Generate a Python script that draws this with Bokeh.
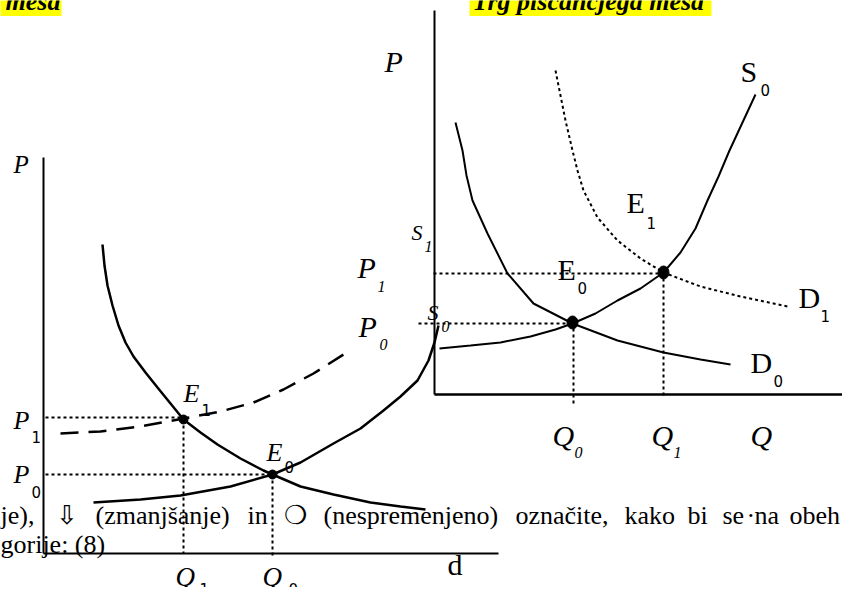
from bokeh.plotting import figure
from bokeh.models import Range1d, ColumnDataSource
from bokeh.core.properties import value
from bokeh.embed import file_html
from bokeh.resources import INLINE

# ---------------- data (screen-pixel units) ----------------
# Right panel: market for chicken meat
rD0_x = [455, 462, 466, 472, 487, 507, 533, 572, 617, 663, 700, 730]
rD0_y = [122, 150, 175, 200, 233, 273, 303, 323, 340, 352, 359, 364]
rS0_x = [439, 470, 500, 530, 555, 572, 595, 617, 640, 663, 680, 695, 707, 718, 729, 742, 755]
rS0_y = [348, 345, 342, 336, 329, 323, 313, 300, 288, 272, 252, 228, 200, 176, 150, 122, 94]
rD1_x = [555, 560, 565, 572, 577, 583, 597, 617, 640, 663, 700, 740, 787]
rD1_y = [70, 95, 120, 150, 170, 190, 217, 240, 258, 272, 286, 296, 306]
rE_x = [572, 663]
rE_y = [322, 272]

# Left panel
lD_x = [102, 104, 107, 112, 118, 125, 133, 145, 157, 170, 183, 200, 217, 240, 263, 272, 300, 333, 370, 400, 425]
lD_y = [244, 265, 285, 305, 325, 342, 356, 372, 387, 403, 419, 432, 444, 458, 470, 474, 486, 494, 502, 506, 509]
lS_x = [93, 140, 180, 230, 272, 300, 333, 360, 383, 400, 417, 428, 434, 438]
lS_y = [502, 499, 495, 486, 474, 462, 443, 428, 410, 396, 380, 360, 342, 325]
lS1_x = [60, 100, 140, 183, 220, 253, 283, 313, 343]
lS1_y = [433, 431, 426, 418, 411, 402, 389, 373, 354]
lE_x = [183, 272]
lE_y = [419, 474]

# labels
ital_text = ["P", "P", "P", "S", "S", "Q", "Q", "Q",
             "P", "E", "E", "P", "P", "Q", "Q"]
ital_x = [384, 357, 358, 411, 427, 552, 651, 750,
          13, 183, 266, 13, 13, 175, 262]
ital_y = [72, 278, 337, 240, 320, 446, 446, 446,
          173, 402, 461, 429, 483, 586, 586]
ital_size = [30, 30, 30, 22, 22, 30, 30, 30,
             25, 26, 26, 26, 26, 27, 27]

isub_text = ["1", "0", "1", "0", "0", "1"]
isub_x = [377, 379, 424, 441, 574, 673]
isub_y = [292, 350, 252, 332, 458, 458]

up_text = ["S", "E", "E", "D", "D", "d"]
up_x = [740, 626, 557, 798, 750, 447]
up_y = [82, 213, 280, 308, 373, 575]

usub_text = ["0", "1", "0", "1", "0", "1", "0", "1", "0", "1", "0"]
usub_x = [760, 646, 577, 820, 773, 201, 284, 31, 31, 199, 288]
usub_y = [95, 228, 293, 321, 386, 415, 472, 442, 497, 594, 594]

para1_words = ["nje),", "\u21e9", "(zmanjšanje)", "in", "\u274d", "(nespremenjeno)",
               "označite,", "kako", "bi", "se", "·", "na", "obeh"]
para1_x = [-13, 55, 95, 247, 283, 323, 515, 624, 687, 722, 746, 754, 789]
para2_words = ["gorije: (8)"]
para2_x = [0]

titles = ["mesa", "Trg piščančjega mesa"]
title_x = [5, 472]
hl_left = [-8, 469]
hl_right = [61, 711]

# SVG text sits a little low with an alphabetic baseline; lift by a fraction of the size
LIFT = 0.36


def lift(ys, size):
    if isinstance(size, list):
        return [y - LIFT * s for y, s in zip(ys, size)]
    return [y - LIFT * size for y in ys]


# ---------------- figure ----------------
p = figure(width=842, height=587, x_range=Range1d(0, 842), y_range=Range1d(587, 0),
           output_backend="svg", toolbar_location=None, min_border=0)
p.axis.visible = False
p.grid.visible = False
p.outline_line_color = None

serif = value("Liberation Serif")

# title highlights
p.quad(left=hl_left, right=hl_right, top=[-10, -10], bottom=[15.5, 15.5],
       fill_color="#ffff00", line_color=None)
p.text(x=title_x, y=lift([10, 10], 26), text=titles, text_font=serif,
       text_font_size=value("26px"), text_font_style="bold italic",
       text_baseline="alphabetic", text_color="black")

# paragraph text
p.text(x=para1_x, y=lift([524] * len(para1_x), 26), text=para1_words, text_font=serif,
       text_font_size=value("26px"), text_baseline="alphabetic", text_color="black")
p.text(x=para2_x, y=lift([553], 26), text=para2_words, text_font=serif,
       text_font_size=value("26px"), text_baseline="alphabetic", text_color="black")

# axes of the right panel
p.line([434, 434], [10, 394], line_color="black", line_width=2)
p.line([434, 858], [394, 394], line_color="black", line_width=2.5)
# axes of the left panel
p.line([43, 43], [157, 553], line_color="black", line_width=2)
p.line([43, 498], [553, 553], line_color="black", line_width=2)

# dotted guide lines
dot = dict(line_color="black", line_width=2, line_dash="3 3")
p.line([433, rE_x[1]], [rE_y[1] + 1, rE_y[1] + 1], **dot)
p.line([418, rE_x[0]], [323, 323], **dot)
p.line([rE_x[0] + 1, rE_x[0] + 1], [rE_y[0], 405], **dot)
p.line([rE_x[1], rE_x[1]], [rE_y[1], 395], **dot)
p.line([45, lE_x[0]], [417, 417], **dot)
p.line([45, lE_x[1]], [lE_y[1], lE_y[1]], **dot)
p.line([lE_x[0], lE_x[0]], [lE_y[0], 553], **dot)
p.line([lE_x[1], lE_x[1]], [lE_y[1], 557], **dot)

# curves
p.line(rD0_x, rD0_y, line_color="black", line_width=2)
p.line(rS0_x, rS0_y, line_color="black", line_width=2)
p.line(rD1_x, rD1_y, line_color="black", line_width=2, line_dash="3 3")
p.line(lD_x, lD_y, line_color="black", line_width=2.5)
p.line(lS_x, lS_y, line_color="black", line_width=2.5)
p.line(lS1_x, lS1_y, line_color="black", line_width=2.5, line_dash="18 10")

# equilibrium points
p.ellipse(x=rE_x, y=rE_y, width=11, height=13, fill_color="black", line_color="black")
p.scatter(x=lE_x, y=lE_y, size=9, fill_color="black", line_color="black")

# labels
src_i = ColumnDataSource(dict(x=ital_x, y=lift(ital_y, ital_size), t=ital_text,
                              s=[f"{s}px" for s in ital_size]))
p.text(x="x", y="y", text="t", text_font_size="s", source=src_i, text_font=serif,
       text_font_style="italic", text_baseline="alphabetic", text_color="black")
p.text(x=isub_x, y=lift(isub_y, 16), text=isub_text, text_font=serif,
       text_font_size=value("16px"), text_font_style="italic",
       text_baseline="alphabetic", text_color="black")
p.text(x=up_x, y=lift(up_y, 30), text=up_text, text_font=serif,
       text_font_size=value("30px"), text_baseline="alphabetic", text_color="black")
p.text(x=usub_x, y=lift(usub_y, 15), text=usub_text, text_font=value("DejaVu Sans"),
       text_font_size=value("15px"), text_baseline="alphabetic", text_color="black")

open("out.html", "w").write(file_html(p, INLINE))
